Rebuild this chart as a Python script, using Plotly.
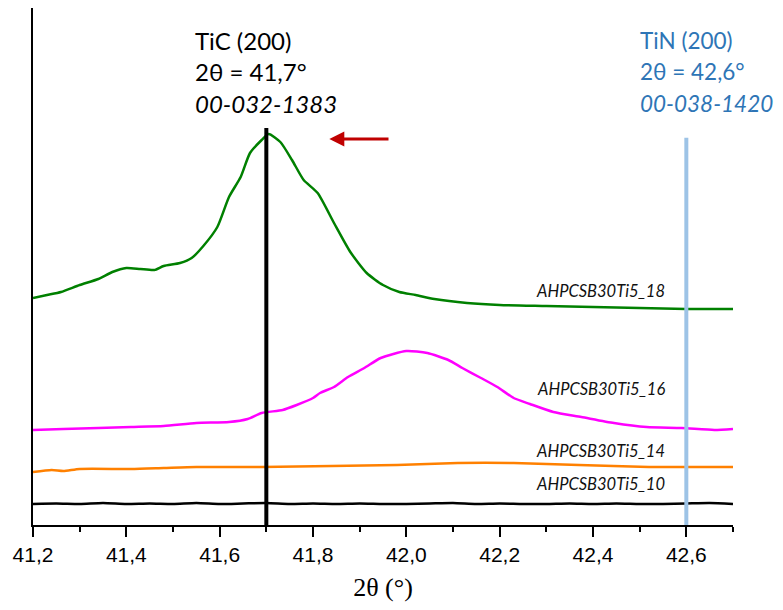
import plotly.graph_objects as go

# ---- data (2θ in degrees, intensity in arbitrary units, offset-stacked) ----
x_18 = [41.20, 41.23, 41.26, 41.30, 41.34, 41.37, 41.40, 41.43, 41.46, 41.48, 41.515, 41.54,
        41.565, 41.595, 41.62, 41.645, 41.665, 41.69, 41.705, 41.73, 41.755, 41.78, 41.81,
        41.845, 41.88, 41.915, 41.95, 41.985, 42.02, 42.06, 42.13, 42.20, 42.30, 42.40,
        42.50, 42.60, 42.70]
y_18 = [225, 228, 231, 238, 244, 251, 255, 254, 253, 257, 260, 265,
        277, 296, 326, 346, 370, 383, 389, 381, 363, 343, 330,
        300, 271, 250, 238, 231, 228, 224, 220, 218, 217, 216,
        215, 214, 214]

x_16 = [41.20, 41.265, 41.34, 41.41, 41.48, 41.55, 41.62, 41.66, 41.69, 41.735, 41.765,
        41.80, 41.815, 41.845, 41.875, 41.91, 41.945, 42.00, 42.045, 42.09, 42.12, 42.16,
        42.195, 42.23, 42.265, 42.315, 42.375, 42.445, 42.515, 42.59, 42.66, 42.70]
y_16 = [93, 94, 95, 96, 97, 100, 101, 104, 110, 113, 118,
        125, 130, 136, 146, 155, 165, 172, 170, 163, 155, 145,
        136, 125, 119, 111, 106, 100, 96, 95, 93, 94]

x_14 = [41.20, 41.24, 41.265, 41.30, 41.41, 41.48, 41.55, 41.69, 41.84, 41.98, 42.11,
        42.23, 42.37, 42.52, 42.60, 42.70]
y_14 = [51, 53, 52, 54, 54, 55, 56, 56, 57, 58, 60, 60, 58, 56, 56, 56]

x_10 = [41.20, 41.25, 41.30, 41.35, 41.40, 41.45, 41.50, 41.55, 41.60, 41.65, 41.70,
        41.75, 41.80, 41.85, 41.90, 41.95, 42.00, 42.05, 42.10, 42.15, 42.20, 42.25,
        42.30, 42.35, 42.40, 42.45, 42.50, 42.55, 42.60, 42.65, 42.70]
y_10 = [19, 19.5, 19, 20, 19, 19.5, 19, 20, 19, 19.5, 20,
        19, 19.5, 19, 19.5, 19, 19, 19.5, 20, 19, 19.5, 19,
        19, 19.5, 19, 19.5, 19, 19, 19.5, 20, 19]

series_names = ["AHPCSB30Ti5_18", "AHPCSB30Ti5_16", "AHPCSB30Ti5_14", "AHPCSB30Ti5_10"]
series_colors = ["#008000", "#FF00FF", "#FF8000", "#000000"]
label_y = [232, 134, 72, 39]

tick_vals = [41.2, 41.4, 41.6, 41.8, 42.0, 42.2, 42.4, 42.6]
tick_text = ["41,2", "41,4", "41,6", "41,8", "42,0", "42,2", "42,4", "42,6"]

ref_pos = [41.7, 42.6]
ref_lines_text = [["TiC (200)", "2θ = 41,7°", "<i>00-032-1383</i>"],
                  ["TiN (200)", "2θ = 42,6°", "<i>00-038-1420</i>"]]

fig = go.Figure()
for xs, ys, nm, col in zip([x_18, x_16, x_14, x_10], [y_18, y_16, y_14, y_10],
                           series_names, series_colors):
    fig.add_trace(go.Scatter(x=xs, y=ys, mode="lines", name=nm,
                             line=dict(color=col, width=2.5, shape="spline", smoothing=0.6),
                             showlegend=False))

# reference lines
fig.add_shape(type="line", xref="x", yref="paper", x0=ref_pos[0], x1=ref_pos[0],
              y0=0, y1=0.768, line=dict(color="black", width=4), layer="above")
fig.add_shape(type="line", xref="x", yref="paper", x0=ref_pos[1], x1=ref_pos[1],
              y0=0, y1=0.749, line=dict(color="#9DC3E6", width=4), layer="above")

# series labels
for nm, ly in zip(series_names, label_y):
    fig.add_annotation(x=42.559, y=ly, xref="x", yref="y", text="<i>%s</i>" % nm,
                       showarrow=False, xanchor="right", yanchor="middle",
                       font=dict(family="Lato", size=16.5, color="#111111"))

# reference texts
line_py = [0.938, 0.878, 0.816]
for lines, xpos, col, fs in zip(ref_lines_text, [41.543, 42.497], ["#000000", "#2E75B6"],
                                [24, 22.5]):
    for t, yy in zip(lines, line_py):
        fig.add_annotation(x=xpos, y=yy, xref="x", yref="paper", text=t, showarrow=False,
                           xanchor="left", yanchor="middle",
                           font=dict(family="Lato", size=fs, color=col))

# red arrow
fig.add_annotation(x=41.835, y=384, ax=41.965, ay=384, xref="x", yref="y",
                   axref="x", ayref="y", text="", showarrow=True, arrowhead=2,
                   arrowsize=1, arrowwidth=3, arrowcolor="#C00000")

# page body has an 8px margin: size the figure so the plot lands where it should
fig.update_layout(
    width=767, height=594,
    margin=dict(l=25, r=42, t=0, b=77),
    plot_bgcolor="white", paper_bgcolor="white",
    xaxis=dict(range=[41.2, 42.7], tickvals=tick_vals, ticktext=tick_text,
               ticks="outside", ticklen=10, tickwidth=2, tickcolor="black",
               showline=True, linecolor="black", linewidth=2, showgrid=False,
               zeroline=False,
               minor=dict(dtick=0.1, tick0=41.2, ticks="outside", ticklen=5,
                          tickwidth=2, tickcolor="black", showgrid=False),
               tickfont=dict(family="Liberation Sans", size=21, color="black"),
               title=dict(text="2θ (°)", standoff=16,
                          font=dict(family="Liberation Serif", size=26, color="black"))),
    yaxis=dict(range=[-2, 515], showline=True, linecolor="black", linewidth=2,
               showticklabels=False, ticks="", showgrid=False, zeroline=False),
)

fig.write_html("out.html")
